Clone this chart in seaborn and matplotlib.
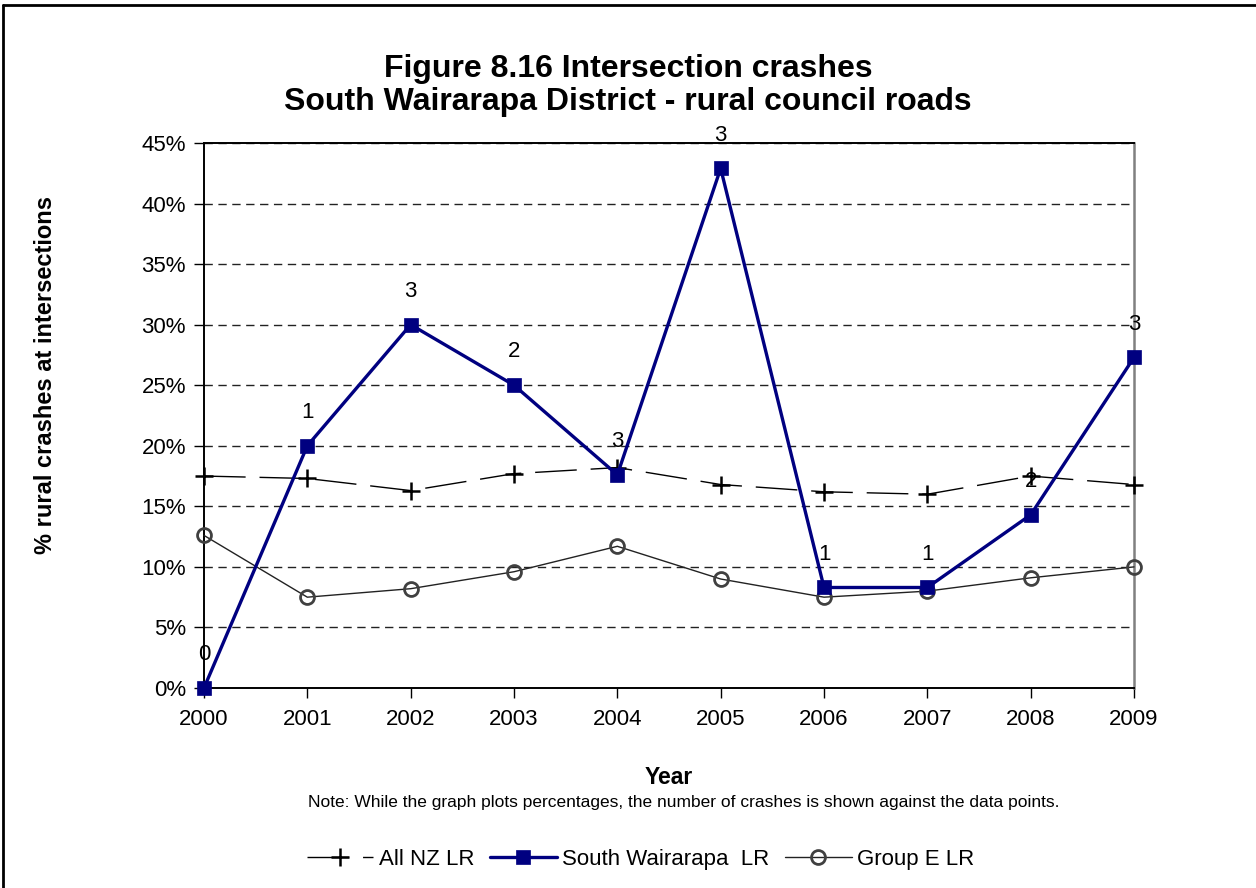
import matplotlib
matplotlib.use("Agg")
import matplotlib.pyplot as plt
import seaborn as sns
import pandas as pd
from matplotlib.lines import Line2D
from matplotlib.ticker import FuncFormatter, MultipleLocator

years = [2000, 2001, 2002, 2003, 2004, 2005, 2006, 2007, 2008, 2009]
all_nz = [17.5, 17.3, 16.3, 17.7, 18.2, 16.8, 16.2, 16.0, 17.5, 16.8]
south_wairarapa = [0.0, 20.0, 30.0, 25.0, 17.6, 42.9, 8.3, 8.3, 14.3, 27.3]
group_e = [12.6, 7.5, 8.2, 9.6, 11.7, 9.0, 7.5, 8.0, 9.1, 10.0]
crash_counts = [0, 1, 3, 2, 3, 3, 1, 1, 2, 3]

sns.set_theme(style="white")
plt.rcParams["font.family"] = ["Liberation Sans", "DejaVu Sans"]
plt.rcParams.update({"text.color": "black", "axes.labelcolor": "black",
                     "xtick.color": "black", "ytick.color": "black"})

fig = plt.figure(figsize=(12.56, 8.88), dpi=100)
ax = fig.add_axes([0.1624, 0.2252, 0.7405, 0.6138])

df = pd.DataFrame({"year": years, "nz": all_nz, "sw": south_wairarapa, "ge": group_e})

sns.lineplot(data=df, x="year", y="nz", ax=ax, color="black", linewidth=1.0,
             marker="+", markersize=13, markeredgewidth=1.8, markeredgecolor="black",
             linestyle=(0, (30, 10)), label="All NZ LR", zorder=3, clip_on=False)
sns.lineplot(data=df, x="year", y="ge", ax=ax, color="#222222", linewidth=1.0,
             marker="o", markersize=10, markerfacecolor="none",
             markeredgecolor="#404040", markeredgewidth=2.0,
             label="Group E LR", zorder=3, clip_on=False)
sns.lineplot(data=df, x="year", y="sw", ax=ax, color="#000080", linewidth=2.4,
             marker="s", markersize=10, markeredgewidth=0.5, markeredgecolor="#000080",
             label="South Wairarapa  LR", zorder=4, clip_on=False)

for yr, val, n in zip(years, south_wairarapa, crash_counts):
    ax.annotate(str(n), (yr, val), xytext=(0, 24), textcoords="offset points",
                ha="center", va="center", fontsize=16, color="black", zorder=5,
                annotation_clip=False)

ax.set_xlim(2000, 2009)
ax.set_ylim(0, 45)
ax.set_xticks(years)
ax.yaxis.set_major_locator(MultipleLocator(5))
ax.yaxis.set_major_formatter(FuncFormatter(lambda v, p: f"{v:.0f}%"))
ax.tick_params(axis="both", labelsize=16, direction="out", length=7, width=1,
               color="black", left=True, bottom=True)
ax.tick_params(axis="y", pad=6)
ax.tick_params(axis="x", pad=8)

ax.grid(axis="y", color="#222222", linestyle=(0, (6, 4)), linewidth=1.0)
ax.grid(axis="x", visible=False)
ax.set_axisbelow(True)

for side in ["left", "bottom", "top"]:
    ax.spines[side].set_color("black")
    ax.spines[side].set_linewidth(1.4)
ax.spines["right"].set_color("#808080")
ax.spines["right"].set_linewidth(1.8)

ax.set_xlabel("Year", fontsize=16.5, fontweight="bold")
ax.xaxis.set_label_coords(0.5, -0.143)
ax.set_ylabel("% rural crashes at intersections", fontsize=17, fontweight="bold")
ax.yaxis.set_label_coords(-0.158, 0.574)

fig.text(0.5, 1 - 69 / 888, "Figure 8.16 Intersection crashes",
         ha="center", va="center", fontsize=23, fontweight="bold")
fig.text(0.5, 1 - 102 / 888, "South Wairarapa District - rural council roads",
         ha="center", va="center", fontsize=23, fontweight="bold")
fig.text(0.544, 1 - 802 / 888,
         "Note: While the graph plots percentages, the number of crashes is shown against the data points.",
         ha="center", va="center", fontsize=12.5)

handles, labels = ax.get_legend_handles_labels()
order = [labels.index("All NZ LR"), labels.index("South Wairarapa  LR"), labels.index("Group E LR")]
ax.legend([handles[i] for i in order], [labels[i] for i in order],
          loc="center", bbox_to_anchor=(0.51, 1 - 859 / 888), bbox_transform=fig.transFigure,
          ncol=3, frameon=False, fontsize=16, handlelength=3.0, handletextpad=0.25,
          columnspacing=0.7)

# frame around the figure
fig.add_artist(Line2D([0.0025, 0.0025], [0, 0.9945], transform=fig.transFigure, color="black", linewidth=2))
fig.add_artist(Line2D([0.0025, 1.0], [0.9945, 0.9945], transform=fig.transFigure, color="black", linewidth=2))

fig.savefig("out.png", dpi=100)
